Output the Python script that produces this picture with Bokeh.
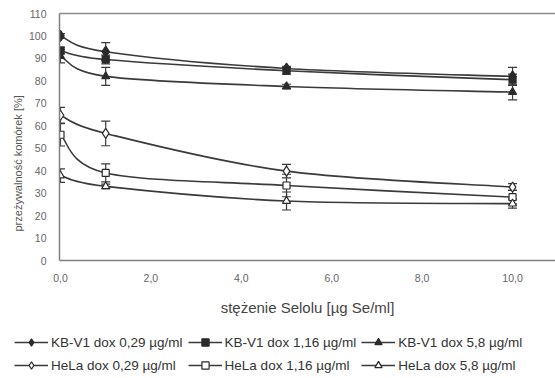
from bokeh.plotting import figure
from bokeh.layouts import column
from bokeh.models import (ColumnDataSource, Whisker, TeeHead, Legend, LegendItem,
                          FixedTicker, Title, Range1d, LinearAxis)
from bokeh.embed import file_html
from bokeh.resources import INLINE

# ---------------- data ----------------
x_vals = [0, 1, 5, 10]

kb_029 = [100.0, 93.0, 85.5, 82.0]
kb_116 = [93.5, 89.5, 84.5, 80.5]
kb_58 = [91.0, 82.0, 77.5, 75.0]
hela_029 = [64.7, 56.6, 39.8, 32.7]
hela_116 = [56.0, 39.0, 33.4, 28.2]
hela_58 = [37.8, 33.0, 26.5, 25.3]

err_kb_029 = [1.0, 4.0, 1.0, 4.0]
err_kb_116 = [1.5, 2.0, 1.5, 2.5]
err_kb_58 = [3.0, 4.0, 1.0, 3.5]
err_hela_029 = [3.5, 5.5, 3.0, 1.5]
err_hela_116 = [5.0, 4.0, 5.0, 3.0]
err_hela_58 = [3.0, 1.0, 4.0, 2.0]

labels = ["KB-V1 dox 0,29 µg/ml", "KB-V1 dox 1,16 µg/ml", "KB-V1 dox 5,8 µg/ml",
          "HeLa dox 0,29 µg/ml", "HeLa dox 1,16 µg/ml", "HeLa dox 5,8 µg/ml"]

x_ticks = [0, 2, 4, 6, 8, 10]
x_tick_labels = ["0,0", "2,0", "4,0", "6,0", "8,0", "10,0"]
y_ticks = [0, 10, 20, 30, 40, 50, 60, 70, 80, 90, 100, 110]

x_title = "stężenie Selolu [µg Se/ml]"
y_title = "przeżywalność komórek [%]"

# ---------------- styles ----------------
series = [
    (kb_029, err_kb_029, "diamond", 11, "#2a2a2a"),
    (kb_116, err_kb_116, "square", 7, "#2a2a2a"),
    (kb_58, err_kb_58, "triangle", 8, "#2a2a2a"),
    (hela_029, err_hela_029, "diamond", 10, "white"),
    (hela_116, err_hela_116, "square", 7, "white"),
    (hela_58, err_hela_58, "triangle", 8, "white"),
]
LINE = "#3a3a3a"
FONT = "Liberation Sans"

p = figure(width=555, height=318, output_backend="svg", toolbar_location=None,
           x_range=Range1d(-0.022, 10.95), y_range=Range1d(0, 110),
           min_border_left=59, min_border_right=0, min_border_top=13,
           min_border_bottom=56, background_fill_color="white",
           border_fill_color="white", outline_line_color=None)
p.xgrid.visible = False
p.ygrid.visible = False

# axes
p.xaxis.ticker = FixedTicker(ticks=x_ticks)
p.xaxis.major_label_overrides = {t: l for t, l in zip(x_ticks, x_tick_labels)}
p.yaxis.ticker = FixedTicker(ticks=y_ticks)
for ax in (p.xaxis[0], p.yaxis[0]):
    ax.axis_line_color = "#808080"
    ax.axis_line_width = 1.5
    ax.major_tick_line_color = None
    ax.minor_tick_line_color = None
    ax.major_label_text_font = FONT
    ax.major_label_text_font_size = "10.5px"
    ax.major_label_text_color = "#666666"
p.xaxis.major_label_standoff = 7
p.yaxis.major_label_standoff = 7
p.xaxis.axis_label = x_title
p.xaxis.axis_label_text_font = FONT
p.xaxis.axis_label_text_font_size = "15px"
p.xaxis.axis_label_text_font_style = "normal"
p.xaxis.axis_label_text_color = "#444444"
p.xaxis.axis_label_standoff = 14

top_axis = LinearAxis(ticker=FixedTicker(ticks=[]), axis_line_color="#8a8a8a",
                      axis_line_width=1.5, major_tick_line_color=None,
                      minor_tick_line_color=None)
p.add_layout(top_axis, "above")

ytitle = Title(text=y_title, align="left", offset=29, text_font=FONT,
               text_font_size="11px", text_font_style="normal",
               text_color="#555555", standoff=4)
p.add_layout(ytitle, "left")


def bezier_controls(xs, ys):
    n = len(xs)
    x0, y0, x1, y1, cx0, cy0, cx1, cy1 = [], [], [], [], [], [], [], []
    for i in range(n - 1):
        ip = max(i - 1, 0)
        inx = min(i + 2, n - 1)
        x0.append(xs[i]); y0.append(ys[i])
        x1.append(xs[i + 1]); y1.append(ys[i + 1])
        cx0.append(xs[i] + (xs[i + 1] - xs[ip]) / 6.0)
        cy0.append(ys[i] + (ys[i + 1] - ys[ip]) / 6.0)
        cx1.append(xs[i + 1] - (xs[inx] - xs[i]) / 6.0)
        cy1.append(ys[i + 1] - (ys[inx] - ys[i]) / 6.0)
    return dict(x0=x0, y0=y0, x1=x1, y1=y1, cx0=cx0, cy0=cy0, cx1=cx1, cy1=cy1)


# legend figure (its renderers are hidden; only the legend is shown)
lf = figure(width=555, height=58, output_backend="svg", toolbar_location=None,
            x_range=Range1d(0, 1), y_range=Range1d(0, 1),
            x_axis_type=None, y_axis_type=None, min_border=0,
            outline_line_color=None, background_fill_color="white",
            border_fill_color="white")
lf.frame_align = False

items = []
for (vals, errs, marker, size, fill), lab in zip(series, labels):
    bsrc = ColumnDataSource(bezier_controls(x_vals, vals))
    p.bezier(x0="x0", y0="y0", x1="x1", y1="y1", cx0="cx0", cy0="cy0",
             cx1="cx1", cy1="cy1", source=bsrc, line_color=LINE, line_width=1.6)
    src = ColumnDataSource(dict(x=x_vals, y=vals,
                                lo=[v - e for v, e in zip(vals, errs)],
                                hi=[v + e for v, e in zip(vals, errs)]))
    w = Whisker(base="x", lower="lo", upper="hi", source=src, dimension="height",
                line_color=LINE, line_width=1.2,
                upper_head=TeeHead(size=9, line_color=LINE, line_width=1.2),
                lower_head=TeeHead(size=9, line_color=LINE, line_width=1.2))
    p.add_layout(w)
    p.scatter(x="x", y="y", source=src, marker=marker, size=size,
              fill_color=fill, line_color="#2a2a2a", line_width=1.2)
    lsrc = ColumnDataSource(dict(x=x_vals, y=vals))
    lr = lf.line(x="x", y="y", source=lsrc, line_color=LINE, line_width=1.6,
                 visible=False)
    sr = lf.scatter(x="x", y="y", source=lsrc, marker=marker, fill_color=fill,
                    line_color="#2a2a2a", line_width=1.2, visible=False)
    items.append(LegendItem(label=lab, renderers=[lr, sr]))

legend = Legend(items=items, orientation="horizontal", ncols=3,
                location=(14, 2), glyph_width=34, glyph_height=18,
                label_height=18, spacing=5, label_standoff=3, padding=0,
                margin=0, border_line_color=None, background_fill_alpha=0,
                inactive_fill_alpha=0,
                label_text_font=FONT, label_text_font_size="13.5px",
                label_text_color="#333333")
lf.add_layout(legend, "center")

layout = column(p, lf, spacing=0)
open("out.html", "w").write(file_html(layout, INLINE))
